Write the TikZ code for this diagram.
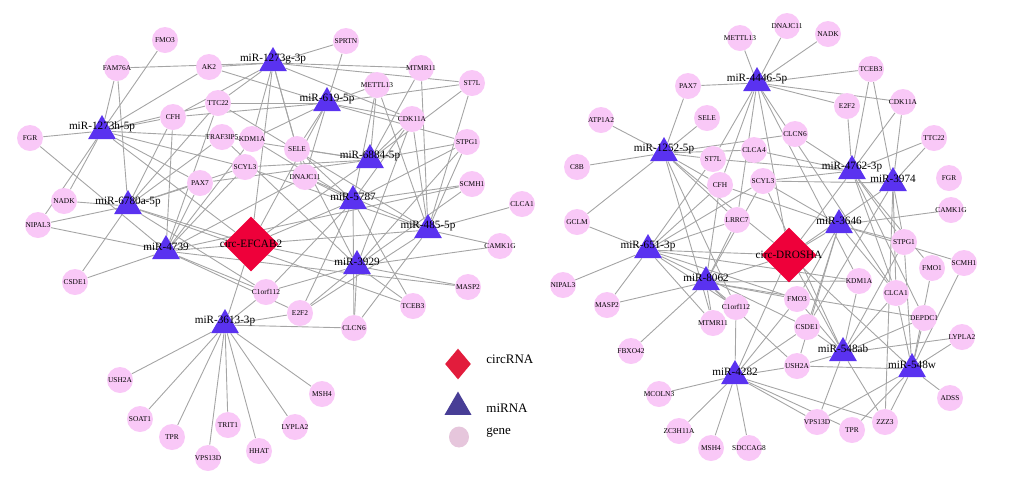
\documentclass[tikz,border=0pt]{standalone}
\usepackage{fontspec}
\setmainfont{Liberation Serif}
\usetikzlibrary{shapes.geometric,backgrounds}

\definecolor{genepink}{RGB}{249,200,247}
\definecolor{mirblue}{RGB}{90,50,240}
\definecolor{circred}{RGB}{238,0,58}
\definecolor{keyred}{RGB}{226,28,60}
\definecolor{keyblue}{RGB}{72,62,150}
\definecolor{keypink}{RGB}{230,198,220}
\definecolor{edgegray}{RGB}{165,165,165}

\begin{document}
\begin{tikzpicture}[
    x=0.5pt, y=-0.5pt,
    every node/.style={inner sep=0pt},
    gene/.style={circle, fill=genepink, minimum size=13pt, label={[genelab]center:#1}},
    genelab/.style={font=\fontsize{3.7}{4}\selectfont},
    mir/.style={regular polygon, regular polygon sides=3, fill=mirblue, minimum size=16pt,
        label={[mirlab, yshift=2pt]center:#1}},
    mirlab/.style={font=\fontsize{5.6}{6}\selectfont},
    circ/.style={diamond, fill=circred, minimum size=27.5pt},
    keylab/.style={font=\fontsize{6.5}{7}\selectfont, anchor=west}
]

\useasboundingbox (0,0) rectangle (1024,479);

% left network: genes
\node[gene=FMO3]     (lFMO3)     at (165,40)  {};
\node[gene=FAM76A]   (lFAM76A)   at (117,68)  {};
\node[gene=AK2]      (lAK2)      at (209,67)  {};
\node[gene=SPRTN]    (lSPRTN)    at (346,41)  {};
\node[gene=MTMR11]   (lMTMR11)   at (421,68)  {};
\node[gene=ST7L]     (lST7L)     at (472,83)  {};
\node[gene=METTL13]  (lMETTL13)  at (377,85)  {};
\node[gene=TTC22]    (lTTC22)    at (218,103) {};
\node[gene=CFH]      (lCFH)      at (173,117) {};
\node[gene=FGR]      (lFGR)      at (30,138)  {};
\node[gene=TRAF3IP5] (lTRAF3IP5) at (222,137) {};
\node[gene=KDM1A]    (lKDM1A)    at (252,139) {};
\node[gene=SELE]     (lSELE)     at (297,149) {};
\node[gene=CDK11A]   (lCDK11A)   at (412,119) {};
\node[gene=STPG1]    (lSTPG1)    at (467,142) {};
\node[gene=SCYL3]    (lSCYL3)    at (245,167) {};
\node[gene=PAX7]     (lPAX7)     at (200,183) {};
\node[gene=DNAJC11]  (lDNAJC11)  at (305,177) {};
\node[gene=SCMH1]    (lSCMH1)    at (472,184) {};
\node[gene=CLCA1]    (lCLCA1)    at (522,204) {};
\node[gene=NADK]     (lNADK)     at (64,201)  {};
\node[gene=NIPAL3]   (lNIPAL3)   at (38,225)  {};
\node[gene=CSDE1]    (lCSDE1)    at (75,282)  {};
\node[gene=C1orf112] (lC1orf112) at (266,292) {};
\node[gene=E2F2]     (lE2F2)     at (300,313) {};
\node[gene=CLCN6]    (lCLCN6)    at (354,328) {};
\node[gene=TCEB3]    (lTCEB3)    at (413,306) {};
\node[gene=MASP2]    (lMASP2)    at (468,287) {};
\node[gene=CAMK1G]   (lCAMK1G)   at (500,246) {};
\node[gene=USH2A]    (lUSH2A)    at (120,380) {};
\node[gene=SOAT1]    (lSOAT1)    at (140,419) {};
\node[gene=TPR]      (lTPR)      at (172,437) {};
\node[gene=VPS13D]   (lVPS13D)   at (208,458) {};
\node[gene=TRIT1]    (lTRIT1)    at (228,425) {};
\node[gene=HHAT]     (lHHAT)     at (259,451) {};
\node[gene=LYPLA2]   (lLYPLA2)   at (295,427) {};
\node[gene=MSH4]     (lMSH4)     at (322,394) {};

% left network: miRNAs and circRNA
\node[mir=miR-1273h-5p] (lm1273h) at (102,131) {};
\node[mir=miR-1273g-3p] (lm1273g) at (273,63)  {};
\node[mir=miR-619-5p]   (lm619)   at (327,103) {};
\node[mir=miR-6884-5p]  (lm6884)  at (370,160) {};
\node[mir=miR-5787]     (lm5787)  at (353,201) {};
\node[mir=miR-485-5p]   (lm485)   at (428,230) {};
\node[mir=miR-3929]     (lm3929)  at (357,266) {};
\node[mir=miR-4739]     (lm4739)  at (166,251) {};
\node[mir=miR-6780a-5p] (lm6780a) at (128,206) {};
\node[mir=miR-3613-3p]  (lm3613)  at (225,325) {};
\node[circ] (lcirc) at (251,244) {};
\node[mirlab] (lcirclab) at (lcirc) {circ-EFCAB2};

% right network: genes
\node[gene=METTL13]  (rMETTL13)  at (740,38)  {};
\node[gene=DNAJC11]  (rDNAJC11)  at (787,26)  {};
\node[gene=NADK]     (rNADK)     at (828,34)  {};
\node[gene=PAX7]     (rPAX7)     at (688,86)  {};
\node[gene=ATP1A2]   (rATP1A2)   at (601,120) {};
\node[gene=SELE]     (rSELE)     at (707,118) {};
\node[gene=C8B]      (rC8B)      at (577,167) {};
\node[gene=ST7L]     (rST7L)     at (713,159) {};
\node[gene=CLCA4]    (rCLCA4)    at (754,150) {};
\node[gene=CLCN6]    (rCLCN6)    at (795,134) {};
\node[gene=SCYL3]    (rSCYL3)    at (763,181) {};
\node[gene=CFH]      (rCFH)      at (720,185) {};
\node[gene=GCLM]     (rGCLM)     at (577,222) {};
\node[gene=LRRC7]    (rLRRC7)    at (737,220) {};
\node[gene=TCEB3]    (rTCEB3)    at (871,69)  {};
\node[gene=E2F2]     (rE2F2)     at (847,106) {};
\node[gene=CDK11A]   (rCDK11A)   at (903,102) {};
\node[gene=TTC22]    (rTTC22)    at (934,138) {};
\node[gene=FGR]      (rFGR)      at (949,178) {};
\node[gene=CAMK1G]   (rCAMK1G)   at (951,210) {};
\node[gene=NIPAL3]   (rNIPAL3)   at (563,285) {};
\node[gene=MASP2]    (rMASP2)    at (607,305) {};
\node[gene=C1orf112] (rC1orf112) at (736,307) {};
\node[gene=MTMR11]   (rMTMR11)   at (713,323) {};
\node[gene=FMO3]     (rFMO3)     at (797,299) {};
\node[gene=CSDE1]    (rCSDE1)    at (807,327) {};
\node[gene=FBXO42]   (rFBXO42)   at (631,351) {};
\node[gene=USH2A]    (rUSH2A)    at (797,366) {};
\node[gene=MCOLN3]   (rMCOLN3)   at (659,394) {};
\node[gene=ZC3H11A]  (rZC3H11A)  at (679,431) {};
\node[gene=MSH4]     (rMSH4)     at (711,448) {};
\node[gene=SDCCAG8]  (rSDCCAG8)  at (749,448) {};
\node[gene=VPS13D]   (rVPS13D)   at (817,422) {};
\node[gene=TPR]      (rTPR)      at (852,430) {};
\node[gene=ZZZ3]     (rZZZ3)     at (885,422) {};
\node[gene=ADSS]     (rADSS)     at (950,398) {};
\node[gene=KDM1A]    (rKDM1A)    at (859,281) {};
\node[gene=STPG1]    (rSTPG1)    at (904,242) {};
\node[gene=FMO1]     (rFMO1)     at (932,268) {};
\node[gene=SCMH1]    (rSCMH1)    at (964,263) {};
\node[gene=CLCA1]    (rCLCA1)    at (896,293) {};
\node[gene=DEPDC1]   (rDEPDC1)   at (924,318) {};
\node[gene=LYPLA2]   (rLYPLA2)   at (962,337) {};

% right network: miRNAs and circRNA
\node[mir=miR-4446-5p] (rm4446)  at (757,83)  {};
\node[mir=miR-1252-5p] (rm1252)  at (664,153) {};
\node[mir=miR-4762-3p] (rm4762)  at (852,171) {};
\node[mir=miR-3974]    (rm3974)  at (893,183) {};
\node[mir=miR-3646]    (rm3646)  at (839,225) {};
\node[mir=miR-651-3p]  (rm651)   at (648,250) {};
\node[mir=miR-8062]    (rm8062)  at (706,282) {};
\node[mir=miR-4282]    (rm4282)  at (735,376) {};
\node[mir=miR-548ab]   (rm548ab) at (843,353) {};
\node[mir=miR-548w]    (rm548w)  at (912,369) {};
\node[circ] (rcirc) at (789,255) {};
\node[mirlab] (rcirclab) at (rcirc) {circ-DROSHA};

% legend
\node[diamond, fill=keyred, minimum width=13pt, minimum height=15.5pt] (keycirc) at (458,364) {};
\node[keylab] (keycirctext) at (486,359) {circRNA};
\node[regular polygon, regular polygon sides=3, fill=keyblue, minimum size=15.5pt] (keymir) at (458,407) {};
\node[keylab] (keymirtext) at (486,408) {miRNA};
\node[ellipse, fill=keypink, minimum width=10pt, minimum height=10.5pt] (keygene) at (459,437) {};
\node[keylab] (keygenetext) at (486,433) {gene};

% connectors
\begin{scope}[on background layer, every edge/.style={draw=edgegray, line width=0.45pt}]
% circ-EFCAB2 -> miRNAs
\draw (lcirc) edge (lm1273h) edge (lm1273g) edge (lm619) edge (lm6884) edge (lm5787)
      edge (lm485) edge (lm3929) edge (lm4739) edge (lm6780a) edge (lm3613);
% miRNAs -> genes (left)
\draw (lm1273h) edge (lFGR) edge (lFAM76A) edge (lFMO3) edge (lAK2) edge (lCFH) edge (lTTC22)
      edge (lTRAF3IP5) edge (lNADK) edge (lNIPAL3) edge (lPAX7) edge (lSCYL3);
\draw (lm1273g) edge (lAK2) edge (lFAM76A) edge (lSPRTN) edge (lMTMR11) edge (lCDK11A) edge (lKDM1A)
      edge (lSELE) edge (lTTC22) edge (lST7L) edge (lDNAJC11) edge (lCFH);
\draw (lm619) edge (lSPRTN) edge (lMETTL13) edge (lST7L) edge (lTTC22) edge (lCFH) edge (lKDM1A)
      edge (lSELE) edge (lDNAJC11) edge (lSTPG1) edge (lCDK11A) edge (lAK2);
\draw (lm6884) edge (lMETTL13) edge (lMTMR11) edge (lCDK11A) edge (lSTPG1) edge (lSELE)
      edge (lSCYL3) edge (lPAX7) edge (lTRAF3IP5) edge (lST7L);
\draw (lm5787) edge (lCDK11A) edge (lSCMH1) edge (lSTPG1) edge (lSELE) edge (lDNAJC11) edge (lKDM1A)
      edge (lMETTL13) edge (lTCEB3) edge (lCLCN6) edge (lE2F2) edge (lC1orf112);
\draw (lm485) edge (lMTMR11) edge (lMETTL13) edge (lCDK11A) edge (lST7L) edge (lSTPG1) edge (lCLCA1)
      edge (lCAMK1G) edge (lCLCN6) edge (lE2F2) edge (lSCYL3) edge (lDNAJC11) edge (lTTC22);
\draw (lm3929) edge (lCAMK1G) edge (lMASP2) edge (lTCEB3) edge (lCLCN6) edge (lE2F2) edge (lC1orf112)
      edge (lSTPG1) edge (lSCMH1) edge (lCDK11A) edge (lSELE) edge (lTRAF3IP5);
\draw (lm4739) edge (lNIPAL3) edge (lCSDE1) edge (lFGR) edge (lPAX7) edge (lCFH) edge (lTTC22)
      edge (lSCYL3) edge (lKDM1A) edge (lDNAJC11) edge (lC1orf112) edge (lE2F2) edge (lSCMH1) edge (lMASP2);
\draw (lm6780a) edge (lNADK) edge (lNIPAL3) edge (lFAM76A) edge (lCFH) edge (lTTC22) edge (lPAX7)
      edge (lSCYL3) edge (lTRAF3IP5) edge (lCSDE1) edge (lC1orf112) edge (lTCEB3);
\draw (lm3613) edge (lUSH2A) edge (lSOAT1) edge (lTPR) edge (lVPS13D) edge (lTRIT1) edge (lHHAT)
      edge (lLYPLA2) edge (lMSH4) edge (lCLCN6) edge (lC1orf112) edge (lE2F2);
% circ-DROSHA -> miRNAs
\draw (rcirc) edge (rm4446) edge (rm1252) edge (rm4762) edge (rm3974) edge (rm3646)
      edge (rm651) edge (rm8062) edge (rm4282) edge (rm548ab) edge (rm548w);
% miRNAs -> genes (right)
\draw (rm4446) edge (rMETTL13) edge (rDNAJC11) edge (rNADK) edge (rPAX7) edge (rTCEB3) edge (rE2F2)
      edge (rCDK11A) edge (rST7L) edge (rCFH) edge (rLRRC7) edge (rKDM1A) edge (rCLCA1);
\draw (rm1252) edge (rATP1A2) edge (rC8B) edge (rPAX7) edge (rSELE) edge (rST7L) edge (rCLCN6)
      edge (rCLCA4) edge (rGCLM) edge (rCFH) edge (rLRRC7) edge (rMTMR11) edge (rC1orf112);
\draw (rm4762) edge (rTCEB3) edge (rE2F2) edge (rCDK11A) edge (rTTC22) edge (rCLCN6) edge (rCLCA4)
      edge (rST7L) edge (rSCYL3) edge (rSTPG1) edge (rCLCA1) edge (rDEPDC1) edge (rFMO1);
\draw (rm3974) edge (rTCEB3) edge (rCDK11A) edge (rTTC22) edge (rSCYL3) edge (rSTPG1) edge (rCLCA1)
      edge (rCSDE1) edge (rZZZ3);
\draw (rm3646) edge (rCAMK1G) edge (rSCYL3) edge (rCFH) edge (rSTPG1) edge (rFMO3) edge (rCSDE1)
      edge (rUSH2A) edge (rSCMH1) edge (rCLCA1);
\draw (rm651) edge (rGCLM) edge (rNIPAL3) edge (rMASP2) edge (rLRRC7) edge (rCFH) edge (rST7L)
      edge (rMTMR11) edge (rC1orf112) edge (rFMO3) edge (rCSDE1) edge (rKDM1A) edge (rSCYL3);
\draw (rm8062) edge (rFBXO42) edge (rMASP2) edge (rC1orf112) edge (rMTMR11) edge (rLRRC7) edge (rCFH)
      edge (rSCYL3) edge (rKDM1A) edge (rFMO3) edge (rUSH2A) edge (rDEPDC1);
\draw (rm4282) edge (rMCOLN3) edge (rZC3H11A) edge (rMSH4) edge (rSDCCAG8) edge (rC1orf112) edge (rUSH2A)
      edge (rVPS13D) edge (rTPR) edge (rZZZ3) edge (rCSDE1) edge (rFMO3);
\draw (rm548ab) edge (rKDM1A) edge (rCLCA1) edge (rSTPG1) edge (rDEPDC1) edge (rLYPLA2) edge (rUSH2A)
      edge (rCSDE1) edge (rZZZ3) edge (rVPS13D) edge (rSCYL3) edge (rFMO3);
\draw (rm548w) edge (rSCMH1) edge (rLYPLA2) edge (rADSS) edge (rDEPDC1) edge (rCLCA1) edge (rTPR)
      edge (rZZZ3) edge (rVPS13D) edge (rUSH2A) edge (rFMO1) edge (rSTPG1);
\end{scope}

\end{tikzpicture}
\end{document}
